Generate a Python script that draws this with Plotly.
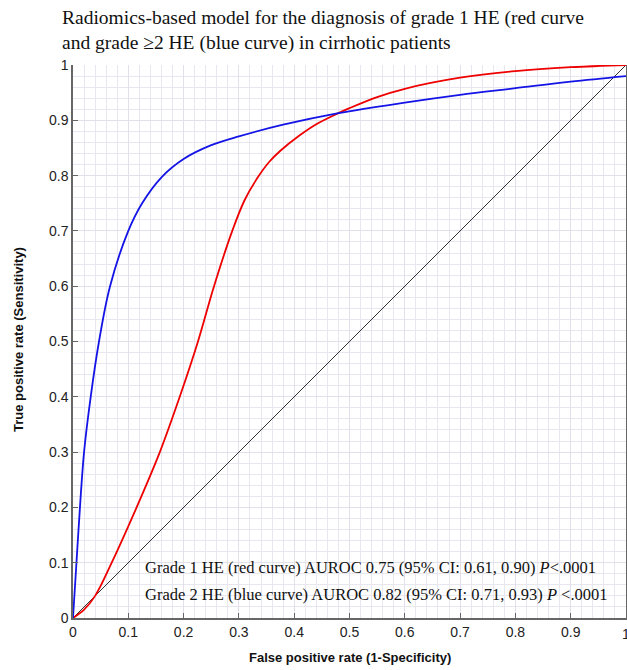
import plotly.graph_objects as go

# Red curve (grade 1 HE)
red_fpr = [0, 0.02, 0.04, 0.07, 0.115, 0.157, 0.193, 0.226, 0.255, 0.288, 0.31, 0.333, 0.355, 0.375, 0.41, 0.44, 0.48, 0.5, 0.55, 0.6, 0.7, 0.8, 0.9, 1.0]
red_tpr = [0, 0.015, 0.04, 0.1, 0.2, 0.3, 0.4, 0.5, 0.6, 0.7, 0.755, 0.795, 0.825, 0.845, 0.873, 0.893, 0.913, 0.922, 0.942, 0.957, 0.977, 0.989, 0.996, 1.0]

# Blue curve (grade >=2 HE)
blue_fpr = [0, 0.005, 0.01, 0.02, 0.032, 0.047, 0.067, 0.1, 0.125, 0.16, 0.2, 0.25, 0.3, 0.38, 0.48, 0.6, 0.7, 0.8, 0.9, 1.0]
blue_tpr = [0, 0.08, 0.16, 0.3, 0.4, 0.5, 0.6, 0.7, 0.75, 0.797, 0.83, 0.855, 0.871, 0.892, 0.913, 0.932, 0.946, 0.958, 0.97, 0.98]

diag = [0, 1]
tick_vals = [0, 0.1, 0.2, 0.3, 0.4, 0.5, 0.6, 0.7, 0.8, 0.9, 1]
tick_text = ["0", "0.1", "0.2", "0.3", "0.4", "0.5", "0.6", "0.7", "0.8", "0.9", "1"]

title_text = "Radiomics-based model for the diagnosis of grade 1 HE (red curve<br>and grade \u22652 HE (blue curve) in cirrhotic patients"
note1 = "Grade 1 HE (red curve) AUROC 0.75 (95% CI: 0.61, 0.90) <i>P</i><.0001"
note2 = "Grade 2 HE (blue curve) AUROC 0.82 (95% CI: 0.71, 0.93) <i>P</i> <.0001"
x_title = "<b>False positive rate (1-Specificity)</b>"
y_title = "<b>True positive rate (Sensitivity)</b>"

PW = 553.0  # plot size in px

fig = go.Figure()
fig.add_trace(go.Scatter(x=diag, y=diag, mode="lines", line=dict(color="#333333", width=1),
                         showlegend=False, cliponaxis=False, hoverinfo="skip"))
fig.add_trace(go.Scatter(x=red_fpr, y=red_tpr, mode="lines",
                         line=dict(color="#ee0000", width=1.8, shape="spline", smoothing=1.0),
                         showlegend=False, cliponaxis=False))
fig.add_trace(go.Scatter(x=blue_fpr, y=blue_tpr, mode="lines",
                         line=dict(color="#1414e6", width=1.8, shape="spline", smoothing=1.0),
                         showlegend=False, cliponaxis=False))

tick_font = dict(family="Liberation Sans, Arial", size=14, color="#222222")
axis_common = dict(
    range=[0, 1], tickvals=tick_vals, ticktext=tick_text, automargin=False,
    showgrid=True, gridcolor="#e2e0ea", gridwidth=1,
    minor=dict(dtick=0.02, showgrid=True, gridcolor="#e8e6ef", gridwidth=1),
    zeroline=False, showline=True, linecolor="#666666", linewidth=1.5,
    ticks="inside", ticklen=5, tickcolor="#666666",
    tickfont=tick_font,
)

title_font = dict(family="Liberation Sans Narrow, Arial Narrow, Liberation Sans", size=13, color="#111111")
serif = "Liberation Serif, Times New Roman"

fig.update_layout(
    width=627, height=670,
    margin=dict(l=73, r=1, t=65, b=52),
    plot_bgcolor="white", paper_bgcolor="white",
    xaxis=dict(**axis_common, mirror=False),
    yaxis=dict(**axis_common, mirror=True),
    annotations=[
        dict(text=title_text, xref="paper", yref="paper", x=(60 - 73) / PW, y=1.0 + 60 / PW,
             xanchor="left", yanchor="top", align="left", showarrow=False,
             font=dict(family=serif, size=19.5, color="#111111")),
        dict(text=note1, xref="paper", yref="paper", x=(143 - 73) / PW, y=(618 - 567) / PW,
             xanchor="left", yanchor="middle", align="left", showarrow=False,
             font=dict(family=serif, size=16.5, color="#111111")),
        dict(text=note2, xref="paper", yref="paper", x=(143 - 73) / PW, y=(618 - 594) / PW,
             xanchor="left", yanchor="middle", align="left", showarrow=False,
             font=dict(family=serif, size=16.5, color="#111111")),
        dict(text=x_title, xref="paper", yref="paper", x=(350 - 73) / PW, y=(618 - 657) / PW,
             xanchor="center", yanchor="middle", showarrow=False, font=title_font),
        dict(text=y_title, xref="paper", yref="paper", x=(18 - 73) / PW, y=(618 - 340) / PW,
             xanchor="center", yanchor="middle", showarrow=False, textangle=-90, font=title_font),
        dict(text=tick_text[-1], xref="x", yref="paper", x=tick_vals[-1], y=(618 - 634) / PW,
             xanchor="center", yanchor="middle", showarrow=False, font=tick_font),
    ],
)

fig.write_html(
    "out.html",
    config={"displayModeBar": False},
    post_script="document.body.style.margin='0';document.body.style.overflow='hidden';",
)
